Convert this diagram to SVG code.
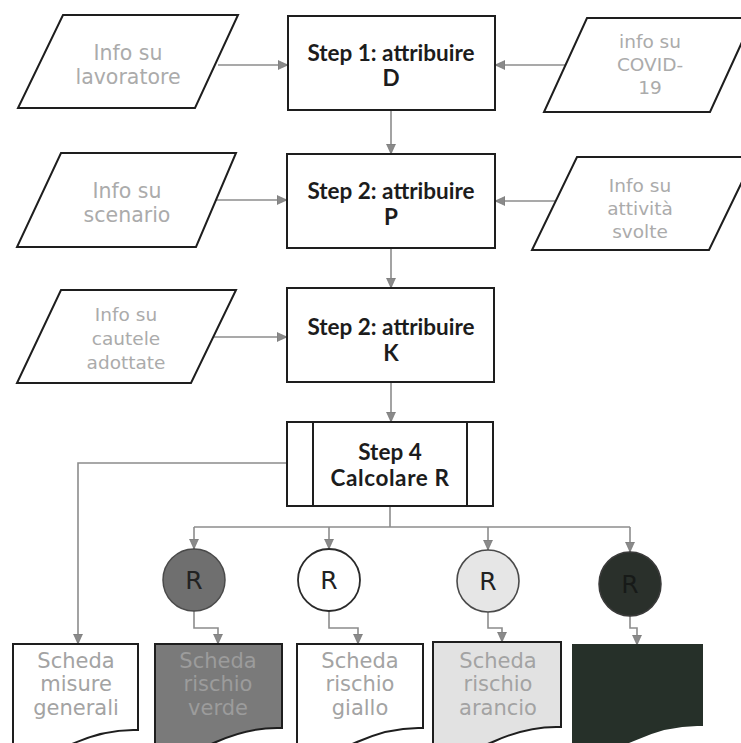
<svg xmlns="http://www.w3.org/2000/svg" width="741" height="743" viewBox="0 0 741 743">
<defs>
<marker id="ah" markerUnits="userSpaceOnUse" markerWidth="10" markerHeight="10" refX="10" refY="5" orient="auto">
<path d="M0,0.5 L10,5 L0,9.5 Z" fill="#8a8a8a" stroke="#6f6f6f" stroke-width="0.6"/>
</marker>
<style>
.shape{stroke:#1e1e1e;stroke-width:2}
.io{fill:#ffffff}
.box{fill:#ffffff}
.con{fill:none;stroke:#8c8c8c;stroke-width:1.6}
.arr{marker-end:url(#ah)}
.lt{font-family:"DejaVu Sans","Liberation Sans",sans-serif;font-size:20.5px;fill:#ababab;text-anchor:middle}
.l3{font-size:18.5px}
.st{font-family:Lato,"Liberation Sans",sans-serif;font-weight:700;font-size:22.5px;fill:#1c1c1c;text-anchor:middle}
.dt{font-family:"DejaVu Sans","Liberation Sans",sans-serif;font-size:21px;fill:#a3a3a3;text-anchor:middle}
.rt{font-family:"DejaVu Sans","Liberation Sans",sans-serif;font-size:25px;fill:#222;text-anchor:middle}
</style>
</defs>
<rect width="741" height="743" fill="#ffffff"/>

<g id="connectors">
<path class="con arr" d="M218,65 H288"/>
<path class="con arr" d="M565,65 H495"/>
<path class="con arr" d="M391,110 V154"/>
<path class="con arr" d="M216,200 H287"/>
<path class="con arr" d="M556,201 H495"/>
<path class="con arr" d="M391,248 V288"/>
<path class="con arr" d="M213,337 H287"/>
<path class="con arr" d="M391,382 V422"/>
<path class="con arr" d="M287,463 H78 V644"/>
<path class="con" d="M390,506 V527"/>
<path class="con" d="M194,527 H630"/>
<path class="con arr" d="M194,527 V549"/>
<path class="con arr" d="M329,527 V549"/>
<path class="con arr" d="M488,527 V550"/>
<path class="con arr" d="M630,527 V552"/>
<path class="con arr" d="M194,611 V628 H218 V644"/>
<path class="con arr" d="M329,611 V628 H358 V644"/>
<path class="con arr" d="M488,612 V628 H502 V642"/>
<path class="con arr" d="M630,616 V628 H637 V645"/>
</g>

<g id="in-lavoratore">
<polygon class="shape io" points="63,15 238,15 195,108 18,108"/>
<text class="lt" x="128" y="60">Info su</text>
<text class="lt" x="128" y="84">lavoratore</text>
</g>
<g id="step1">
<rect class="shape box" x="288" y="16" width="207" height="94"/>
<text class="st" x="391" y="61">Step 1: attribuire</text>
<text class="st" x="391" y="86">D</text>
</g>
<g id="in-covid">
<polygon class="shape io" points="587,18 753,18 710,112 544,112"/>
<text class="lt l3" x="650" y="48">info su</text>
<text class="lt l3" x="650" y="71">COVID-</text>
<text class="lt l3" x="650" y="94">19</text>
</g>

<g id="in-scenario">
<polygon class="shape io" points="61,153 236,153 196,247 17,247"/>
<text class="lt" x="127" y="198">Info su</text>
<text class="lt" x="127" y="222">scenario</text>
</g>
<g id="step2p">
<rect class="shape box" x="287" y="154" width="208" height="94"/>
<text class="st" x="391" y="199">Step 2: attribuire</text>
<text class="st" x="391" y="225">P</text>
</g>
<g id="in-attivita">
<polygon class="shape io" points="577,157 754,157 709,250 532,250"/>
<text class="lt l3" x="640" y="192">Info su</text>
<text class="lt l3" x="640" y="215">attività</text>
<text class="lt l3" x="640" y="238">svolte</text>
</g>

<g id="in-cautele">
<polygon class="shape io" points="61,290 236,290 191,383 17,383"/>
<text class="lt l3" x="126" y="321">Info su</text>
<text class="lt l3" x="126" y="345">cautele</text>
<text class="lt l3" x="126" y="369">adottate</text>
</g>
<g id="step2k">
<rect class="shape box" x="287" y="288" width="207" height="94"/>
<text class="st" x="391" y="335">Step 2: attribuire</text>
<text class="st" x="391" y="361">K</text>
</g>

<g id="step4">
<rect class="shape box" x="287" y="422" width="206" height="84"/>
<line class="shape" x1="313" y1="422" x2="313" y2="506"/>
<line class="shape" x1="467" y1="422" x2="467" y2="506"/>
<text class="st" x="390" y="460">Step 4</text>
<text class="st" x="390" y="486" style="letter-spacing:0.6px">Calcolare R</text>
</g>

<g id="r-verde">
<ellipse cx="194" cy="580" rx="31" ry="31" fill="#6f6f6f" stroke="#4a4a4a" stroke-width="1.5"/>
<text class="rt" x="194" y="589">R</text>
</g>
<g id="r-giallo">
<ellipse cx="329" cy="580" rx="31" ry="31" fill="#ffffff" stroke="#2a2a2a" stroke-width="1.8"/>
<text class="rt" x="329" y="589">R</text>
</g>
<g id="r-arancio">
<ellipse cx="488" cy="581" rx="31" ry="31" fill="#e6e6e6" stroke="#4a4a4a" stroke-width="1.6"/>
<text class="rt" x="488" y="590">R</text>
</g>
<g id="r-rosso">
<ellipse cx="630" cy="584" rx="31" ry="32" fill="#2a302b" stroke="#3a3a3a" stroke-width="1.5"/>
<text class="rt" x="630" y="593" style="fill:#171a18">R</text>
</g>

<g id="doc-generali">
<path class="shape" fill="#ffffff" d="M13,644 H138 V730 C112,729 92,735 72,744 C52,752 30,752 13,750 Z"/>
<text class="dt" x="76" y="668">Scheda</text>
<text class="dt" x="76" y="691">misure</text>
<text class="dt" x="76" y="715">generali</text>
</g>
<g id="doc-verde">
<path class="shape" fill="#7a7a7a" d="M155,644 H282 V728 C256,727 236,733 216,742 C196,751 174,752 155,750 Z"/>
<text class="dt" x="218" y="668" style="fill:#9c9c9c">Scheda</text>
<text class="dt" x="218" y="691" style="fill:#9c9c9c">rischio</text>
<text class="dt" x="218" y="715" style="fill:#9c9c9c">verde</text>
</g>
<g id="doc-giallo">
<path class="shape" fill="#ffffff" d="M297,644 H423 V728 C397,727 377,733 357,742 C337,751 315,752 297,750 Z"/>
<text class="dt" x="360" y="668">Scheda</text>
<text class="dt" x="360" y="691">rischio</text>
<text class="dt" x="360" y="715">giallo</text>
</g>
<g id="doc-arancio">
<path class="shape" fill="#e2e2e2" d="M433,642 H561 V727 C535,726 515,732 495,741 C475,750 453,752 433,750 Z"/>
<text class="dt" x="498" y="668">Scheda</text>
<text class="dt" x="498" y="691">rischio</text>
<text class="dt" x="498" y="715">arancio</text>
</g>
<g id="doc-rosso">
<path fill="#263029" stroke="#263029" stroke-width="2" d="M573,645 H702 V725 C676,724 656,730 636,739 C616,748 594,752 573,750 Z"/>
</g>
</svg>
